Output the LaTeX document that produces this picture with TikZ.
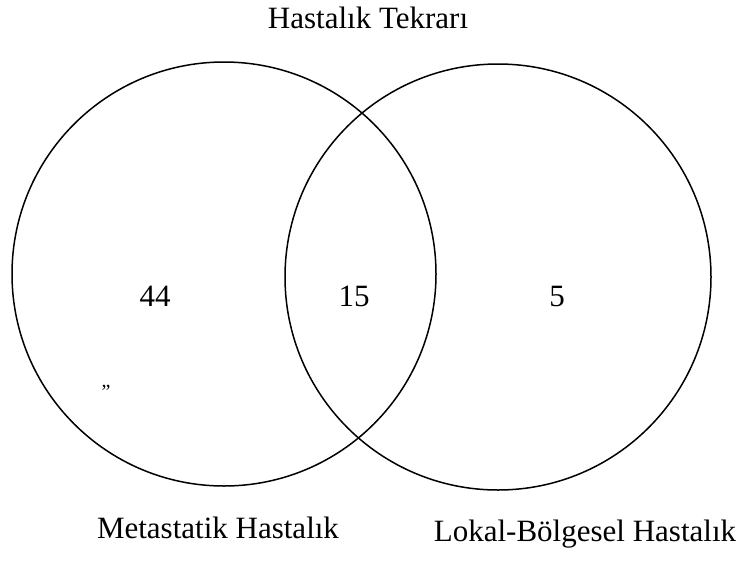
\documentclass[tikz,border=0pt]{standalone}
\usepackage{fontspec}
\setmainfont{Liberation Serif}
\begin{document}
\begin{tikzpicture}[x=1pt,y=-1pt,
  ring/.style={draw=black,line width=1.5pt},
  lbl/.style={font=\fontsize{31}{33}\selectfont,inner sep=0pt,anchor=base},
  num/.style={font=\fontsize{31}{33}\selectfont,inner sep=0pt,anchor=base}]
\useasboundingbox (0,0) rectangle (741,560);
\draw[ring] (224,274) circle[radius=212];
\draw[ring] (498,277) circle[radius=213];
\node[lbl] (title) at (368,28) {Hastalık Tekrarı};
\node[num] (a) at (155,306) {44};
\node[num] (b) at (354,306) {15};
\node[num] (c) at (557,306) {5};
\node[inner sep=0pt,font=\fontsize{20}{20}\selectfont] (q) at (106,392) {''};
\node[lbl] (m) at (218,538) {Metastatik Hastalık};
\node[lbl] (l) at (585,541) {Lokal-Bölgesel Hastalık};
\end{tikzpicture}
\end{document}
